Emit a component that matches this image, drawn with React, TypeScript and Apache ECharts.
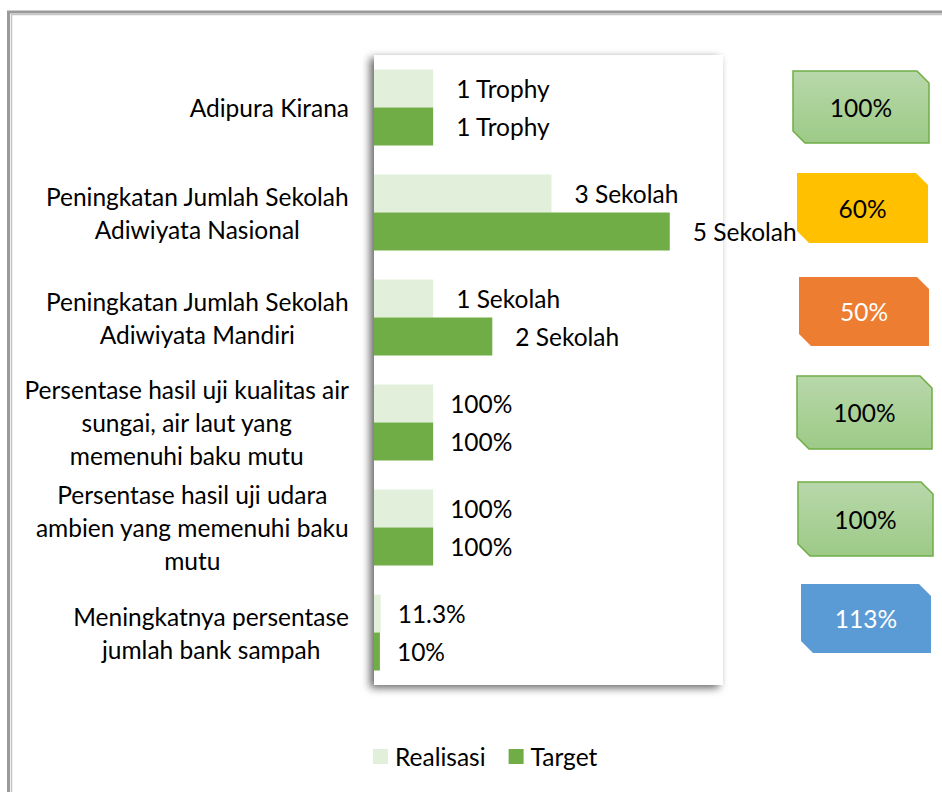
import React, { useEffect, useRef } from "react";
import * as echarts from "echarts";

const categories = [
  "Adipura Kirana",
  "Peningkatan Jumlah Sekolah\nAdiwiyata Nasional",
  "Peningkatan Jumlah Sekolah\nAdiwiyata Mandiri",
  "Persentase hasil uji kualitas air\nsungai, air laut yang\nmemenuhi baku mutu",
  "Persentase hasil uji udara\nambien yang memenuhi baku\nmutu",
  "Meningkatnya persentase\njumlah bank sampah",
];
const realisasiValues = [1, 3, 1, 1, 1, 0.113];
const targetValues = [1, 5, 2, 1, 1, 0.1];
const realisasiLabels = ["1 Trophy", "3 Sekolah", "1 Sekolah", "100%", "100%", "11.3%"];
const targetLabels = ["1 Trophy", "5 Sekolah", "2 Sekolah", "100%", "100%", "10%"];
const achievementLabels = ["100%", "60%", "50%", "100%", "100%", "113%"];
const seriesNames = ["Realisasi", "Target"];

// layout / style (not data)
const badgeBoxes = [
  [793, 71, 136, 72],
  [797, 173, 131, 70],
  [799, 277, 130, 69],
  [797, 376, 135, 73],
  [798, 482, 135, 74],
  [801, 584, 130, 69],
];
const badgeKinds = ["green", "yellow", "orange", "green", "green", "blue"];

const FONT = "Lato";
const FS = 24.5;

export default function App() {
  const ref = useRef<HTMLDivElement>(null);
  useEffect(() => {
    const chart = echarts.init(ref.current!, null, { renderer: "svg" });
    const green = new echarts.graphic.LinearGradient(0, 0, 0, 1, [
      { offset: 0, color: "#b8d8aa" },
      { offset: 1, color: "#9dca87" },
    ]);
    const kindStyle: Record<string, any> = {
      green: { fill: green, stroke: "#70ad47", lineWidth: 1.5, text: "#000" },
      yellow: { fill: "#ffc000", stroke: "#ffc000", lineWidth: 0, text: "#000" },
      orange: { fill: "#ed7d31", stroke: "#ed7d31", lineWidth: 0, text: "#fff" },
      blue: { fill: "#5b9bd5", stroke: "#5b9bd5", lineWidth: 0, text: "#fff" },
    };
    const badges: any[] = [];
    achievementLabels.forEach((t, i) => {
      const [x, y, w, h] = badgeBoxes[i];
      const k = kindStyle[badgeKinds[i]];
      const cc = 12;
      badges.push({
        type: "polygon",
        z: 10,
        shape: {
          points: [
            [x, y],
            [x + w - cc, y],
            [x + w, y + cc],
            [x + w, y + h],
            [x + cc, y + h],
            [x, y + h - cc],
          ],
        },
        style: { fill: k.fill, stroke: k.lineWidth ? k.stroke : null, lineWidth: k.lineWidth },
      });
      badges.push({
        type: "text",
        z: 11,
        style: {
          text: t,
          x: x + w / 2,
          y: y + h / 2,
          align: "center",
          verticalAlign: "middle",
          fontSize: FS,
          fontFamily: FONT,
          fill: k.text,
        },
      });
    });
    const mkData = (vals: number[], labels: string[]) =>
      vals.map((v, i) => ({ value: v, label: { distance: labels[i].includes("%") ? 17 : 23 } }));
    const labelCfg = (labels: string[]) => ({
      show: true,
      position: "right",
      fontSize: FS,
      fontFamily: FONT,
      color: "#000",
      formatter: (p: any) => labels[p.dataIndex],
    });
    chart.setOption({
      animation: false,
      backgroundColor: "#fff",
      grid: {
        left: 374,
        top: 55,
        width: 349,
        height: 630,
        show: true,
        borderWidth: 0,
        backgroundColor: "#fff",
        shadowColor: "rgba(0,0,0,0.6)",
        shadowBlur: 8,
        shadowOffsetX: -4,
        shadowOffsetY: 3,
      },
      xAxis: { type: "value", min: 0, max: 5.9, show: false, splitLine: { show: false } },
      yAxis: {
        type: "category",
        inverse: true,
        data: categories,
        axisLine: { show: false },
        axisTick: { show: false },
        axisLabel: {
          margin: 25,
          color: "#000",
          fontSize: FS,
          fontFamily: FONT,
          lineHeight: 33,
          formatter: (v: string) => v.split("\n").map((l) => `{c|${l}}`).join("\n"),
          rich: { c: { align: "center", fontSize: FS, fontFamily: FONT, lineHeight: 33, color: "#000" } },
        },
      },
      legend: {
        data: seriesNames,
        left: 368,
        top: 739,
        icon: "rect",
        itemWidth: 15,
        itemHeight: 15,
        itemGap: 23,
        textStyle: { fontSize: FS, fontFamily: FONT, color: "#000", padding: [0, 0, 0, 2] },
      },
      series: [
        {
          type: "bar",
          name: seriesNames[0],
          data: mkData(realisasiValues, realisasiLabels),
          barCategoryGap: "27.6%",
          barGap: "0%",
          itemStyle: { color: "#e2efda" },
          label: labelCfg(realisasiLabels),
        },
        {
          type: "bar",
          name: seriesNames[1],
          data: mkData(targetValues, targetLabels),
          barCategoryGap: "27.6%",
          barGap: "0%",
          itemStyle: { color: "#70ad47" },
          label: labelCfg(targetLabels),
        },
      ],
      graphic: [
        {
          type: "polyline",
          z: 20,
          shape: { points: [[8.5, 800], [8.5, 12], [960, 12]] },
          style: { stroke: "#9a9a9a", lineWidth: 3, fill: null },
        },
        {
          type: "polyline",
          z: 20,
          shape: { points: [[11.5, 800], [11.5, 14.5], [960, 14.5]] },
          style: { stroke: "#c4c4c4", lineWidth: 1.5, fill: null },
        },
        ...badges,
      ],
    });
    return () => chart.dispose();
  }, []);
  return (
    <div style={{ position: "fixed", left: 0, top: 0, width: 942, height: 792, background: "#fff" }}>
      <div ref={ref} style={{ width: 942, height: 792 }} />
    </div>
  );
}
